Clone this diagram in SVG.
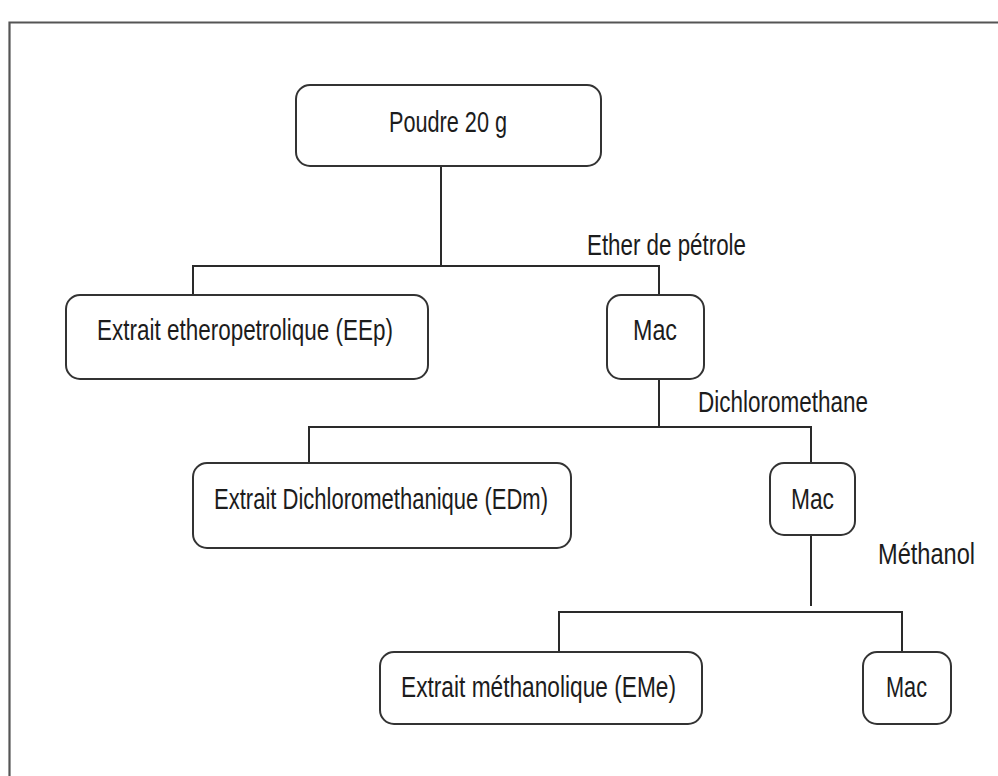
<svg xmlns="http://www.w3.org/2000/svg" width="998" height="776" viewBox="0 0 998 776">
<style>
.box{fill:#fff;stroke:#333;stroke-width:2}
.t{font-family:"Liberation Sans",Arial,sans-serif;font-size:29px;fill:#1c1c1c}
.c{fill:none;stroke:#2a2a2a;stroke-width:2}
.frame{fill:none;stroke:#555;stroke-width:2.2}
</style>
<rect x="0" y="0" width="998" height="776" fill="#fff"/>
<path class="frame" d="M9.5,776 V22.5 H998"/>
<g id="connectors">
<path class="c" d="M441,166 V266 M193,295 V266 H659 V295"/>
<path class="c" d="M659,379 V427 M309,463 V427 H811 V463"/>
<path class="c" d="M811,535 V606"/>
<path class="c" d="M559,652 V612 H902 V652"/>
</g>
<g id="poudre">
<rect class="box" x="296" y="85" width="305" height="81" rx="14"/>
<text class="t" x="389" y="132" textLength="118" lengthAdjust="spacingAndGlyphs">Poudre 20 g</text>
</g>
<g id="eep">
<rect class="box" x="66" y="295" width="362" height="84" rx="14"/>
<text class="t" x="97" y="340" textLength="296" lengthAdjust="spacingAndGlyphs">Extrait etheropetrolique (EEp)</text>
</g>
<g id="mac1">
<rect class="box" x="607" y="295" width="97" height="84" rx="14"/>
<text class="t" x="633" y="340" textLength="44" lengthAdjust="spacingAndGlyphs">Mac</text>
</g>
<g id="label-ether">
<text class="t" x="587" y="255" textLength="159" lengthAdjust="spacingAndGlyphs">Ether de pétrole</text>
</g>
<g id="label-dcm">
<text class="t" x="698" y="412" textLength="170" lengthAdjust="spacingAndGlyphs">Dichloromethane</text>
</g>
<g id="edm">
<rect class="box" x="193" y="463" width="378" height="85" rx="14"/>
<text class="t" x="214" y="509" textLength="334" lengthAdjust="spacingAndGlyphs">Extrait Dichloromethanique (EDm)</text>
</g>
<g id="mac2">
<rect class="box" x="770" y="463" width="85" height="72" rx="14"/>
<text class="t" x="791" y="509" textLength="43" lengthAdjust="spacingAndGlyphs">Mac</text>
</g>
<g id="label-methanol">
<text class="t" x="878" y="564" textLength="97" lengthAdjust="spacingAndGlyphs">Méthanol</text>
</g>
<g id="eme">
<rect class="box" x="380" y="652" width="322" height="72" rx="14"/>
<text class="t" x="401" y="697" textLength="275" lengthAdjust="spacingAndGlyphs">Extrait méthanolique (EMe)</text>
</g>
<g id="mac3">
<rect class="box" x="863" y="652" width="88" height="72" rx="14"/>
<text class="t" x="886" y="697" textLength="41" lengthAdjust="spacingAndGlyphs">Mac</text>
</g>
</svg>
